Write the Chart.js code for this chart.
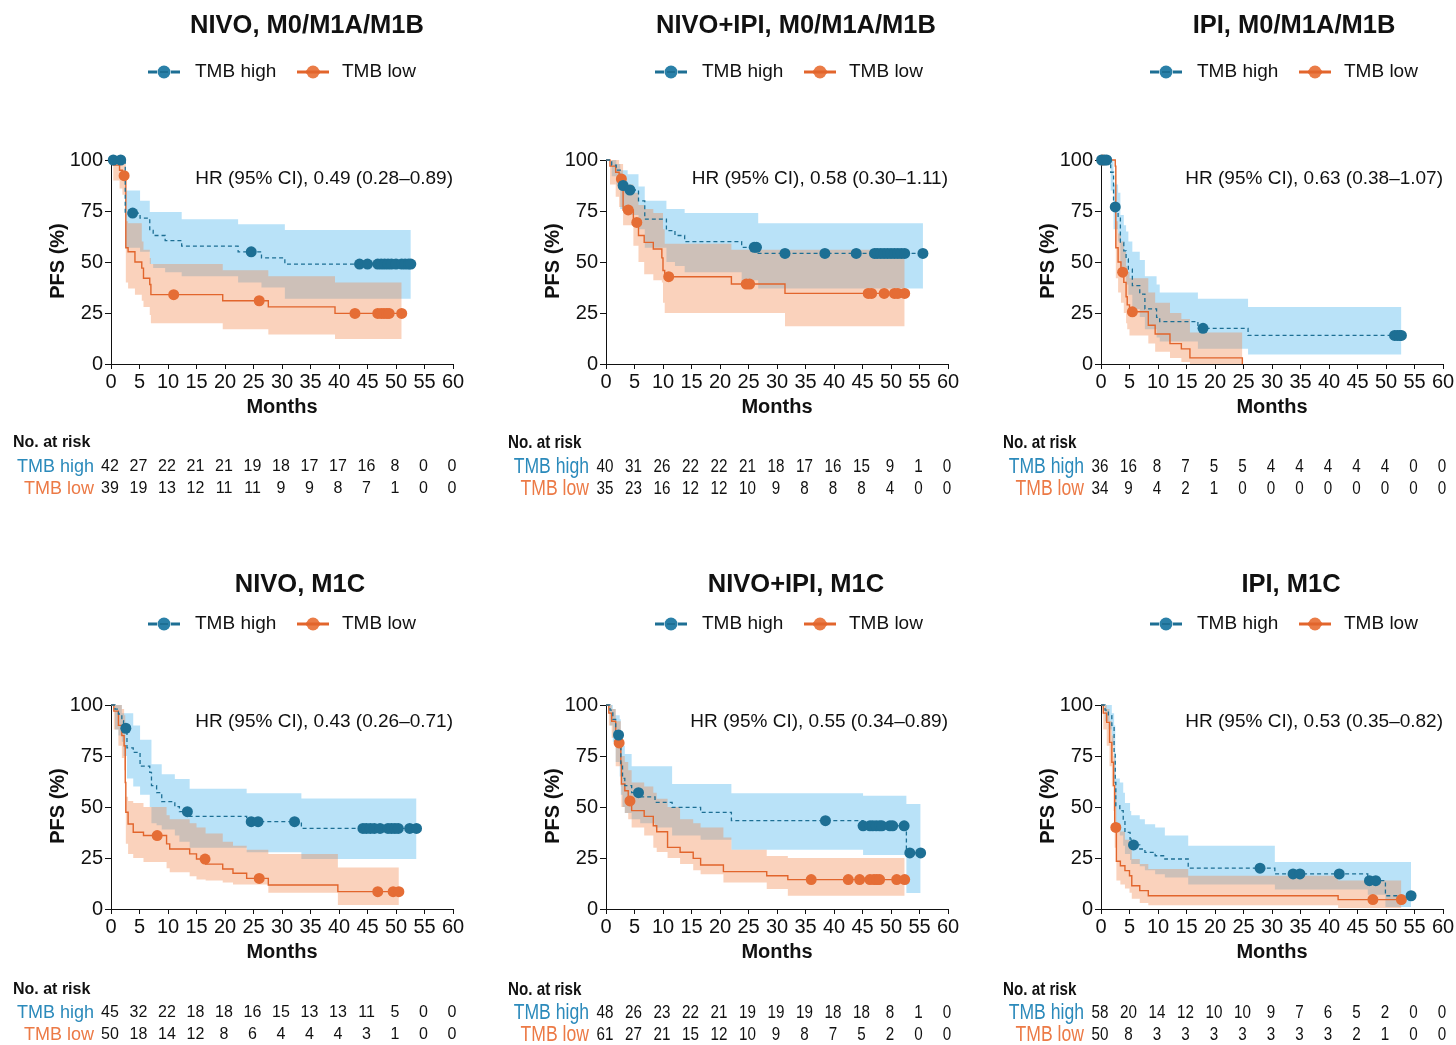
<!DOCTYPE html>
<html>
<head>
<meta charset="utf-8">
<script src="https://cdn.jsdelivr.net/npm/chart.js@4.4.1/dist/chart.umd.min.js"></script>
<style>
html, body { margin: 0; padding: 0; background: #fff; overflow: hidden; }
#wrap { position: relative; width: 1456px; height: 1045px; }
canvas { position: absolute; }
</style>
</head>
<body>
<div id="wrap"></div>
<script>
// panel texts
const titles = ['NIVO, M0/M1A/M1B', 'NIVO+IPI, M0/M1A/M1B', 'IPI, M0/M1A/M1B', 'NIVO, M1C', 'NIVO+IPI, M1C', 'IPI, M1C'];
const hrLabels = ['HR (95% CI), 0.49 (0.28–0.89)', 'HR (95% CI), 0.58 (0.30–1.11)', 'HR (95% CI), 0.63 (0.38–1.07)',
                  'HR (95% CI), 0.43 (0.26–0.71)', 'HR (95% CI), 0.55 (0.34–0.89)', 'HR (95% CI), 0.53 (0.35–0.82)'];
const seriesNames = ['TMB high', 'TMB low'];
const monthTicks = [0, 5, 10, 15, 20, 25, 30, 35, 40, 45, 50, 55, 60];
const pfsTicks = [0, 25, 50, 75, 100];

// number at risk
const riskHigh = [
  [42, 27, 22, 21, 21, 19, 18, 17, 17, 16, 8, 0, 0],
  [40, 31, 26, 22, 22, 21, 18, 17, 16, 15, 9, 1, 0],
  [36, 16, 8, 7, 5, 5, 4, 4, 4, 4, 4, 0, 0],
  [45, 32, 22, 18, 18, 16, 15, 13, 13, 11, 5, 0, 0],
  [48, 26, 23, 22, 21, 19, 19, 19, 18, 18, 8, 1, 0],
  [58, 20, 14, 12, 10, 10, 9, 7, 6, 5, 2, 0, 0]
];
const riskLow = [
  [39, 19, 13, 12, 11, 11, 9, 9, 8, 7, 1, 0, 0],
  [35, 23, 16, 12, 12, 10, 9, 8, 8, 8, 4, 0, 0],
  [34, 9, 4, 2, 1, 0, 0, 0, 0, 0, 0, 0, 0],
  [50, 18, 14, 12, 8, 6, 4, 4, 4, 3, 1, 0, 0],
  [61, 27, 21, 15, 12, 10, 9, 8, 7, 5, 2, 0, 0],
  [50, 8, 3, 3, 3, 3, 3, 3, 3, 2, 1, 0, 0]
];

// TMB high: step times (months), PFS %, 95% CI upper / lower, censor times
const highT = [
  [0, 2.5, 5.1, 6.8, 7.4, 9.5, 12.4, 22.3, 26.4, 30.5, 52.6],
  [0, 1.0, 1.8, 2.5, 3.8, 5.7, 6.8, 10.6, 12.1, 13.8, 23.8, 26.7, 55.6],
  [0, 1.7, 2.2, 3.0, 3.4, 4.0, 4.4, 4.8, 5.5, 6.8, 7.7, 9.75, 10.3, 17, 25.8, 52.7],
  [0, 0.7, 1.3, 1.9, 2.2, 2.8, 3.9, 5.1, 6.8, 7.1, 8.0, 8.9, 11.2, 12.0, 13.8, 23.8, 33.4, 53.6],
  [0, 0.7, 1.2, 1.7, 2.4, 2.6, 2.9, 3.3, 4.5, 6.0, 8.6, 11.6, 16.6, 22, 45.1, 52.7, 55.2],
  [0, 0.7, 1.3, 1.9, 2.3, 2.5, 2.6, 3.3, 3.9, 4.2, 5.1, 5.3, 6.8, 7.7, 9.5, 11.2, 15.3, 30.5, 46.8, 49.9, 54.4]
];
const highS = [
  [100, 74, 71.5, 65.5, 63, 60.5, 57.8, 55, 52, 49, 49],
  [100, 97.5, 95, 87.5, 85.3, 80, 71, 65.4, 63, 60, 57.2, 54.2, 54.2],
  [100, 94, 77, 72, 59.6, 55.5, 51.5, 46.5, 38.4, 34.3, 27, 22.9, 20.8, 17.5, 14, 14],
  [100, 98, 95.6, 92.3, 88.6, 79, 76.8, 70, 67, 60.5, 57, 52.6, 50.2, 47.7, 45.4, 42.8, 39.5, 39.5],
  [100, 97.5, 93, 85.3, 80, 70, 64, 60.5, 57, 55, 52.3, 49.8, 47.4, 43.3, 40.8, 27.5, 27.5],
  [100, 97.5, 94.8, 90, 76.8, 62, 50.7, 48.2, 43.3, 37.6, 34.3, 31.4, 29.4, 27.8, 26.1, 24.5, 20, 17.2, 13.9, 6.5, 6.5]
];
const highHi = [
  [100, 85, 80, 74.5, 74.5, 74.5, 71, 68.5, 68.5, 65.7, 65.7],
  [100, 100, 98, 95, 93, 87, 80, 76, 76, 74, 74, 69, 69],
  [100, 100, 88, 84, 73, 68, 65, 60, 55, 51, 43, 39, 35, 32, 28, 28],
  [100, 100, 100, 96, 96, 96, 90, 83, 83, 71, 71, 66, 63.7, 63.7, 59, 56.7, 54.2, 54.2],
  [100, 100, 98, 95, 93, 86, 80, 76, 70, 70, 70, 61.3, 61.3, 56.7, 55.5, 51.5, 51.5],
  [100, 100, 100, 96, 90, 75, 64, 62, 57, 52, 48, 46, 44, 41.5, 40, 36, 31, 23, 23, 23, 23]
];
const highLo = [
  [100, 57, 55, 49, 47, 45, 43, 40, 37.5, 32, 32],
  [100, 92, 88, 76, 73, 66, 57, 50, 48, 45, 41, 37, 37],
  [100, 85, 66, 60, 47, 43, 39, 34, 27, 23, 17, 13, 11, 7.5, 4.6, 4.6],
  [100, 88, 85, 82, 75, 64, 60, 56, 50, 42, 41, 39, 36, 33, 30, 27.8, 24.5, 24.5],
  [100, 90, 82, 72, 65, 56, 50, 47, 44, 42, 40, 36, 34, 29, 26.5, 7.8, 7.8],
  [100, 92, 88, 80, 62, 50, 40, 36, 31, 27, 24, 22, 21, 19, 17, 15.5, 12, 9.5, 7, 1, 1]
];
const highCens = [
  [0.4, 1.7, 3.8, 24.6, 43.6, 45, 46.8, 47.4, 48, 48.6, 49.2, 50, 51, 51.6, 52.2, 52.6],
  [3.0, 4.2, 26.0, 26.4, 31.4, 38.4, 43.9, 47.1, 47.6, 48.2, 48.8, 49.4, 50, 50.6, 51.2, 51.8, 52.4, 55.6],
  [0.1, 0.6, 1.0, 2.5, 17.9, 51.5, 52, 52.4, 52.7],
  [2.6, 13.4, 24.6, 25.8, 32.2, 44.2, 44.8, 45.5, 46.2, 47.2, 48.6, 49.2, 49.8, 50.4, 52.4, 53.6],
  [2.2, 5.7, 38.5, 45.1, 46.3, 46.8, 47.4, 48, 48.4, 49.8, 50.3, 52.3, 53.3, 55.2],
  [5.7, 27.9, 33.7, 34.9, 41.8, 47.1, 48.2, 54.4]
];

// TMB low
const lowT = [
  [0, 0.4, 1.5, 2.0, 2.6, 3.0, 4.2, 5.4, 5.7, 6.8, 7.0, 19.6, 27.6, 39.3, 51],
  [0, 0.7, 1.7, 2.3, 3.0, 4.8, 5.7, 6.7, 8.3, 9.8, 10.0, 10.3, 22, 31.4, 52.4],
  [0, 2.5, 2.6, 3.0, 3.5, 4.0, 4.4, 4.6, 5.0, 8.3, 9.5, 12.1, 14.1, 15.6, 24.8],
  [0, 0.5, 1.3, 1.9, 2.3, 2.5, 2.6, 3.0, 3.9, 5.7, 9.75, 10.3, 13.8, 15.0, 16.6, 19.6, 21.4, 23.8, 27.6, 39.8, 50.5],
  [0, 0.5, 1.0, 1.7, 2.6, 2.7, 3.3, 3.9, 4.5, 6.7, 8.3, 8.9, 10.8, 13, 15.3, 16.6, 20.6, 22, 28.2, 31.9, 52.4],
  [0, 0.4, 1.0, 1.5, 1.9, 2.2, 2.4, 2.7, 3.4, 4.2, 5.0, 5.4, 6.8, 8.3, 15.3, 41.6, 52.7]
];
const lowS = [
  [100, 97.5, 95, 92.3, 57, 55, 50, 47, 42, 39, 34, 31, 28, 24.8, 24.8],
  [100, 97, 94, 90.7, 75.5, 69.4, 63, 59.6, 56.4, 52, 45.8, 42.8, 39.2, 34.6, 34.6],
  [100, 97, 57, 50, 45, 40, 33, 29, 25.6, 19, 14.7, 10, 7.4, 3, 0],
  [100, 97, 90, 85, 80, 62, 47.4, 41.7, 37.6, 36, 31.9, 29.4, 27, 24.5, 22, 19.6, 17.5, 15, 11.8, 8.5, 8.5],
  [100, 96, 92, 81.4, 72, 61.3, 58, 53, 48.2, 45.4, 40.8, 37.9, 30.2, 27.8, 24.8, 21.6, 18.3, 18.3, 16.3, 14.4, 14.4],
  [100, 96, 91.5, 81.7, 71.9, 60.5, 40, 23.4, 21.2, 18.8, 16.3, 11.4, 9, 6.5, 6.5, 4.6, 4.6]
];
const lowHi = [
  [100, 100, 100, 100, 70, 69, 69, 60, 56, 52, 49, 46, 43, 40, 40],
  [100, 100, 100, 98, 88, 84, 78, 76, 74, 74, 66, 59, 56, 56, 56],
  [100, 100, 70, 64, 60, 55, 48, 45, 42, 35, 30, 25, 22, 15.5, 15.5],
  [100, 100, 100, 98, 95, 75, 55, 53, 52, 50, 46, 44, 42, 40, 37, 33, 31, 29, 27, 20.4, 20.4],
  [100, 100, 98, 92, 85, 75, 72, 68, 62, 60, 57, 54, 50, 44, 42, 40, 35, 29, 26, 25, 25],
  [100, 100, 98, 92, 85, 75, 58, 42, 38, 34, 30, 24.5, 22, 19.6, 16.3, 14, 14]
];
const lowLo = [
  [100, 90, 86, 83, 40, 37, 34, 31, 28, 24, 20, 17, 14.5, 12.3, 12.3],
  [100, 88, 82, 77, 68, 58, 50, 44, 41, 40, 30, 25, 25, 18.5, 18.5],
  [100, 90, 42, 35, 30, 25, 20, 17, 14, 10, 6, 3, 1, 0, 0],
  [100, 88, 80, 74, 68, 48, 32, 27, 25, 23, 20, 18, 16, 14.5, 14, 13, 12, 12, 8, 2, 2],
  [100, 90, 84, 70, 60, 50, 47, 44, 40, 36, 30, 28, 25, 22, 19, 17, 13, 13, 9.8, 6.5, 6.5],
  [100, 88, 80, 70, 60, 48, 30, 14, 12, 10, 8, 5, 3, 1.8, 1.8, 0.5, 0.5]
];
const lowCens = [
  [2.3, 11, 26, 42.8, 46.8, 47.4, 47.9, 48.4, 48.8, 51],
  [2.7, 3.9, 5.4, 11, 24.6, 25.2, 46, 46.6, 48.8, 50.6, 51.2, 52.4],
  [0.3, 3.8, 5.5],
  [8.1, 16.5, 26, 46.8, 49.5, 50.5],
  [2.3, 4.2, 36, 42.5, 44.5, 46.3, 47, 47.5, 48, 51, 52.4],
  [2.6, 47.7, 52.7]
];

const BLUE = '#1d6f94';
const ORANGE = '#e2652c';
const BLUE_BAND = 'rgba(100,190,240,0.45)';
const ORANGE_BAND = 'rgba(240,130,70,0.36)';
const FONT = '"Liberation Sans", Arial, Helvetica, sans-serif';

Chart.defaults.font.family = FONT;
Chart.defaults.color = '#111';

function pts(T, V) {
  return T.map((t, i) => ({ x: t, y: V[i] }));
}
function stepAt(T, S, t) {
  let v = S[0];
  for (let i = 0; i < T.length; i++) if (T[i] <= t) v = S[i];
  return v;
}
function censPts(T, S, C) {
  return C.map(t => ({ x: t, y: stepAt(T, S, t) }));
}

function txt(ctx, s, x, y, font, color, align, sx) {
  ctx.save();
  ctx.font = font;
  ctx.fillStyle = color;
  ctx.textAlign = align;
  ctx.textBaseline = 'middle';
  ctx.translate(x, y);
  ctx.scale(sx || 1, 1);
  ctx.fillText(s, 0, 0);
  ctx.restore();
}

function decor(idx) {
  const row = Math.floor(idx / 3), col = idx % 3;
  const narrow = col !== 0;
  return {
    id: 'decor' + idx,
    afterDraw(chart) {
      const ctx = chart.ctx;
      const area = chart.chartArea;
      const xs = chart.scales.x;
      const titleX = [307, 301, 304, 300, 301, 301][idx];
      txt(ctx, titles[idx], titleX, row ? 40 : 26, 'bold 25.5px ' + FONT, '#111', 'center');

      // legend
      const ly = row ? 79 : 72;
      let lx = col === 0 ? 148 : 160;
      ctx.save();
      ctx.lineWidth = 3;
      ctx.strokeStyle = BLUE;
      ctx.beginPath();
      ctx.moveTo(lx, ly); ctx.lineTo(lx + 9, ly);
      ctx.moveTo(lx + 23, ly); ctx.lineTo(lx + 32, ly);
      ctx.stroke();
      ctx.fillStyle = '#2a80a8';
      ctx.beginPath(); ctx.arc(lx + 16, ly, 6.5, 0, Math.PI * 2); ctx.fill();
      ctx.strokeStyle = BLUE; ctx.lineWidth = 2;
      ctx.beginPath(); ctx.moveTo(lx + 12, ly); ctx.lineTo(lx + 20, ly); ctx.stroke();
      ctx.restore();
      txt(ctx, seriesNames[0], lx + 47, ly, '19px ' + FONT, '#111', 'left');
      lx += 149;
      ctx.save();
      ctx.lineWidth = 3;
      ctx.strokeStyle = ORANGE;
      ctx.beginPath(); ctx.moveTo(lx, ly); ctx.lineTo(lx + 32, ly); ctx.stroke();
      ctx.fillStyle = '#ea7c47';
      ctx.beginPath(); ctx.arc(lx + 16, ly, 6.5, 0, Math.PI * 2); ctx.fill();
      ctx.beginPath(); ctx.moveTo(lx + 9, ly); ctx.lineTo(lx + 23, ly); ctx.stroke();
      ctx.restore();
      txt(ctx, seriesNames[1], lx + 45, ly, '19px ' + FONT, '#111', 'left');

      // hazard ratio
      txt(ctx, hrLabels[idx], area.right, row ? 177 : 179, '19px ' + FONT, '#111', 'right');

      // axis titles
      ctx.save();
      ctx.translate(58, 261);
      ctx.rotate(-Math.PI / 2);
      txt(ctx, 'PFS (%)', 0, 0, 'bold 20px ' + FONT, '#111', 'center');
      ctx.restore();
      txt(ctx, 'Months', (area.left + area.right) / 2, 407, 'bold 20px ' + FONT, '#111', 'center');

      // number at risk table
      const ry = row ? [445, 468, 490] : [443, 467, 489];
      const sx = narrow ? 0.8 : 1;
      txt(ctx, 'No. at risk', 13, ry[0], narrow ? 'bold 19px ' + FONT : 'bold 16px ' + FONT, '#111', 'left', sx);
      txt(ctx, seriesNames[0], 94, ry[1], narrow ? '22px ' + FONT : '18px ' + FONT, '#2b8abb', 'right', sx);
      txt(ctx, seriesNames[1], 94, ry[2], narrow ? '22px ' + FONT : '18px ' + FONT, '#ec7a46', 'right', sx);
      const nf = narrow ? '19px ' + FONT : '16px ' + FONT;
      monthTicks.forEach((m, i) => {
        const px = xs.getPixelForValue(m) - 1;
        txt(ctx, String(riskHigh[idx][i]), px, ry[1], nf, '#111', 'center', sx);
        txt(ctx, String(riskLow[idx][i]), px, ry[2], nf, '#111', 'center', sx);
      });
    }
  };
}

const wrap = document.getElementById('wrap');
for (let idx = 0; idx < 6; idx++) {
  const row = Math.floor(idx / 3), col = idx % 3;
  const cv = document.createElement('canvas');
  cv.width = 466; cv.height = 500;
  cv.style.left = (col * 495) + 'px';
  cv.style.top = (row * 545) + 'px';
  cv.style.width = '466px'; cv.style.height = '500px';
  wrap.appendChild(cv);

  // 'before' = hold the previous value, then drop at the event time
  const bandCommon = { pointRadius: 0, borderWidth: 0, borderColor: 'transparent', stepped: 'before', clip: false };
  new Chart(cv, {
    type: 'line',
    data: {
      datasets: [
        Object.assign({ data: pts(highT[idx], highHi[idx]), fill: '+1', backgroundColor: BLUE_BAND, order: 4 }, bandCommon),
        Object.assign({ data: pts(highT[idx], highLo[idx]), fill: false, order: 4 }, bandCommon),
        Object.assign({ data: pts(lowT[idx], lowHi[idx]), fill: '+1', backgroundColor: ORANGE_BAND, order: 3 }, bandCommon),
        Object.assign({ data: pts(lowT[idx], lowLo[idx]), fill: false, order: 3 }, bandCommon),
        { label: seriesNames[0], data: pts(highT[idx], highS[idx]), stepped: 'before', borderColor: BLUE, borderWidth: 1.3,
          borderDash: [4, 3], pointRadius: 0, fill: false, order: 2, clip: false },
        { label: seriesNames[1], data: pts(lowT[idx], lowS[idx]), stepped: 'before', borderColor: ORANGE, borderWidth: 1.4,
          pointRadius: 0, fill: false, order: 2, clip: false },
        { data: censPts(highT[idx], highS[idx], highCens[idx]), showLine: false, pointRadius: 5.5,
          pointBackgroundColor: BLUE, pointBorderWidth: 0, order: 1, clip: false },
        { data: censPts(lowT[idx], lowS[idx], lowCens[idx]), showLine: false, pointRadius: 5.5,
          pointBackgroundColor: '#e56d35', pointBorderWidth: 0, order: 1, clip: false }
      ]
    },
    options: {
      responsive: false,
      animation: false,
      devicePixelRatio: 1,
      events: [],
      layout: { padding: { left: 0, top: 160, right: 13, bottom: 0 } },
      plugins: { legend: { display: false }, tooltip: { enabled: false }, title: { display: false } },
      scales: {
        x: {
          type: 'linear', min: 0, max: 60,
          afterFit: s => { s.height = 136; },
          afterBuildTicks: s => { s.ticks = monthTicks.map(v => ({ value: v })); },
          ticks: { font: { size: 20 }, color: '#111', padding: 1, autoSkip: false, maxRotation: 0 },
          grid: { display: true, drawOnChartArea: false, drawTicks: true, tickLength: 5, color: '#111', tickWidth: 1 },
          border: { display: true, color: '#111', width: 1 }
        },
        y: {
          min: 0, max: 100,
          afterFit: s => { s.width = 111; },
          afterBuildTicks: s => { s.ticks = pfsTicks.map(v => ({ value: v })); },
          ticks: { font: { size: 20 }, color: '#111', padding: 2 },
          grid: { display: true, drawOnChartArea: false, drawTicks: true, tickLength: 6, color: '#111', tickWidth: 1 },
          border: { display: true, color: '#111', width: 1 }
        }
      }
    },
    plugins: [decor(idx)]
  });
}
</script>
</body>
</html>
